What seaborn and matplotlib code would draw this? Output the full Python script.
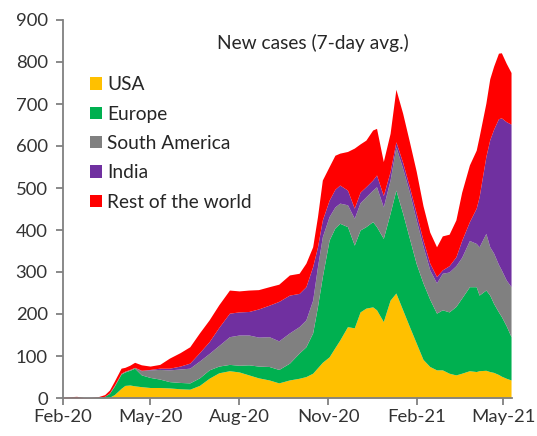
import pandas as pd
import seaborn as sns
import matplotlib.pyplot as plt
import matplotlib.dates as mdates

# 7-day average of new cases, thousands
dates = [
    "2020-02-01", "2020-02-08", "2020-02-15", "2020-02-22", "2020-03-01", "2020-03-08",
    "2020-03-15", "2020-03-20", "2020-03-25", "2020-04-01", "2020-04-05", "2020-04-10",
    "2020-04-15", "2020-04-22", "2020-05-01", "2020-05-11", "2020-05-21", "2020-06-01",
    "2020-06-11", "2020-06-21", "2020-07-01", "2020-07-11", "2020-07-22", "2020-08-01",
    "2020-08-11", "2020-08-21", "2020-09-01", "2020-09-11", "2020-09-22", "2020-10-02",
    "2020-10-09", "2020-10-16", "2020-10-21", "2020-10-26", "2020-11-02", "2020-11-08",
    "2020-11-13", "2020-11-21", "2020-11-28", "2020-12-04", "2020-12-10", "2020-12-17",
    "2020-12-21", "2020-12-28", "2021-01-04", "2021-01-10", "2021-01-17", "2021-01-24",
    "2021-01-31", "2021-02-07", "2021-02-14", "2021-02-21", "2021-02-27", "2021-03-06",
    "2021-03-13", "2021-03-19", "2021-03-27", "2021-04-03", "2021-04-06", "2021-04-13",
    "2021-04-17", "2021-04-21", "2021-04-26", "2021-04-29", "2021-05-04", "2021-05-09",
]
usa = [0, 0, 0, 0, 0, 0, 0.3, 2, 8, 23, 30, 31, 29, 27, 25, 25, 24, 22, 21, 30, 47, 60,
       65, 62, 55, 48, 43, 36, 43, 47, 51, 59, 72, 85, 98, 120, 138, 170, 167, 205, 214,
       217, 210, 182, 233, 250, 210, 170, 131, 92, 75, 67, 67, 59, 55, 59, 65, 63, 65, 66,
       63, 61, 56, 52, 47, 43]
europe = [0, 0, 0, 0, 0.3, 1, 3.7, 9, 20, 34, 32, 35, 42, 28, 24, 20, 15, 15, 15, 18, 20,
          16, 15, 16, 24, 28, 32, 32, 40, 60, 71, 96, 146, 204, 278, 285, 278, 238, 197,
          195, 194, 203, 198, 198, 207, 245, 230, 210, 189, 182, 160, 135, 143, 146, 163,
          179, 200, 202, 180, 191, 182, 164, 149, 142, 125, 103]
south_america = [0, 0, 0, 0, 0, 0, 0, 1, 2, 2, 2, 2, 2, 10, 18, 23, 28, 32, 35, 40, 39, 49,
                 66, 72, 71, 69, 71, 68, 72, 63, 64, 78, 95, 95, 56, 50, 48, 52, 64, 65, 71,
                 75, 95, 75, 79, 103, 107, 110, 104, 88, 70, 72, 87, 95, 97, 97, 110, 103,
                 115, 135, 115, 120, 113, 111, 109, 119]
india = [0, 0, 0, 0, 0, 0, 0, 0, 0, 0, 0, 0, 0, 1, 1, 3, 4, 7, 12, 20, 28, 43, 56, 55, 56,
         67, 75, 94, 90, 79, 79, 80, 47, 40, 39, 42, 43, 35, 24, 25, 24, 24, 28, 27, 20,
         12, 14, 13, 16, 14, 16, 15, 8, 15, 21, 40, 45, 84, 119, 183, 255, 295, 347, 362,
         377, 387]
rest_of_world = [2, 3, 4, 1.5, 1.2, 2, 4, 7, 10, 12, 9, 10, 12, 13, 8, 9, 24, 32, 39, 47,
                 52, 54, 55, 50, 51, 46, 44, 41, 48, 48, 56, 47, 72, 95, 80, 81, 76, 92,
                 143, 115, 111, 119, 111, 81, 91, 125, 117, 107, 100, 82, 74, 71, 81, 75,
                 88, 115, 135, 138, 143, 127, 145, 150, 156, 155, 139, 123]

labels = ["USA", "Europe", "South America", "India", "Rest of the world"]
colors = ["#FFC000", "#00B050", "#808080", "#7030A0", "#FF0000"]

df = pd.DataFrame({
    "date": pd.to_datetime(dates),
    "USA": usa,
    "Europe": europe,
    "South America": south_america,
    "India": india,
    "Rest of the world": rest_of_world,
})

sns.set_theme(style="white")
plt.rcParams["font.family"] = ["Lato", "DejaVu Sans"]

fig = plt.figure(figsize=(5.37, 4.36), dpi=100)
ax = fig.add_axes([63 / 537, 38 / 436, 449 / 537, 378 / 436])

ax.stackplot(df["date"], [df[c] for c in labels], labels=labels, colors=colors, lw=0)

ax.set_ylim(0, 900)
ax.set_yticks(range(0, 901, 100))
ax.set_xlim(pd.Timestamp("2020-02-01"), pd.Timestamp("2021-05-10"))
ax.xaxis.set_major_locator(mdates.MonthLocator(bymonth=[2, 5, 8, 11]))
ax.xaxis.set_major_formatter(mdates.DateFormatter("%b-%y"))

sns.despine(ax=ax)
for side in ["left", "bottom"]:
    ax.spines[side].set_color("#808080")
    ax.spines[side].set_linewidth(1.3)
ax.tick_params(axis="both", which="major", direction="out", length=5, width=1.3,
               color="#808080", labelsize=13.3, labelcolor="#333333",
               bottom=True, left=True)
ax.tick_params(axis="y", pad=6)
ax.tick_params(axis="x", pad=3)
ax.grid(False)

ax.text(0.557, 0.939, "New cases (7-day avg.)", transform=ax.transAxes,
        ha="center", va="center", fontsize=13.8, color="#262626")

ax.legend(loc="upper left", bbox_to_anchor=(0.038, 0.876), frameon=False, fontsize=13.8,
          handlelength=0.62, handleheight=0.62, handletextpad=0.3, labelspacing=0.64,
          borderpad=0, labelcolor="#262626")

fig.savefig("out.png", dpi=100)
